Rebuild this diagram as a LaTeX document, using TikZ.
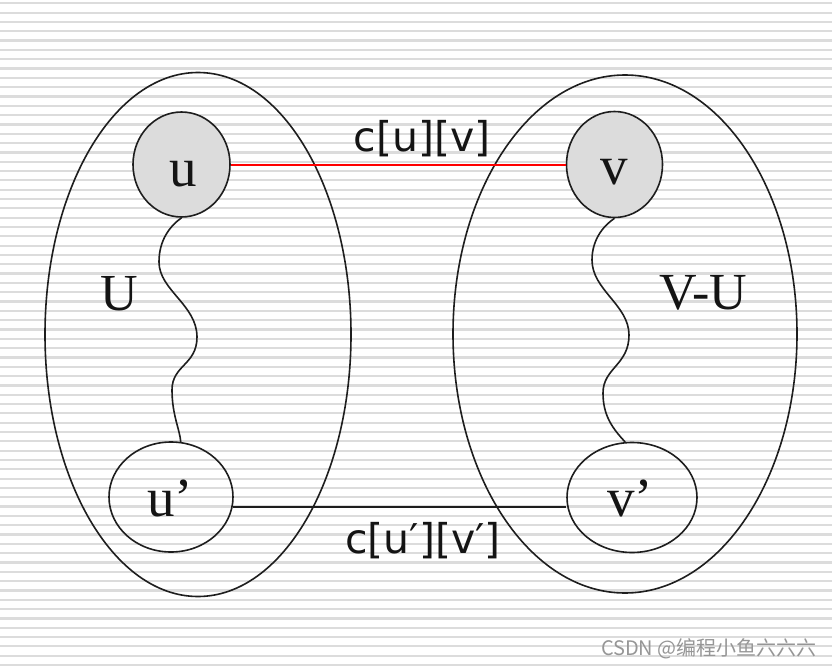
\documentclass[tikz,border=0pt]{standalone}
\usepackage{fontspec}
\setmainfont{Liberation Serif}
\newfontfamily\labelsans{DejaVu Sans}
\newfontfamily\cjkfont{Noto Sans CJK SC}
\usetikzlibrary{shapes.geometric}
\definecolor{stripecol}{RGB}{220,220,220}
\definecolor{fillgray}{RGB}{220,220,220}
\definecolor{strokecol}{RGB}{30,30,30}
\definecolor{textcol}{RGB}{20,20,20}
\definecolor{markcol}{RGB}{150,150,150}
\begin{document}
\begin{tikzpicture}[x=1pt,y=-1pt,
  stripe/.style={draw=stripecol,line width=2.2pt},
  bigset/.style={draw=strokecol,line width=1.6pt},
  vertex/.style={ellipse,draw=strokecol,line width=1.6pt,inner sep=0pt},
  shaded/.style={vertex,fill=fillgray},
  vlabel/.style={anchor=base,inner sep=0pt,text=textcol,font=\fontsize{55}{60}\selectfont},
  setlabel/.style={anchor=base,inner sep=0pt,text=textcol,font=\fontsize{52}{58}\selectfont},
  edgelabel/.style={anchor=base,inner sep=0pt,text=textcol,font=\labelsans\fontsize{41}{46}\selectfont},
  wave/.style={draw=strokecol,line width=1.6pt},
  watermark/.style={anchor=base east,inner sep=0pt,text=markcol,font=\cjkfont\fontsize{20}{24}\selectfont}]
\useasboundingbox (0,0) rectangle (832,666);
\fill[white] (0,0) rectangle (832,666);
\foreach \k in {0,...,71} \draw[stripe] (0,{3.3+9.32*\k}) -- (832,{3.3+9.32*\k});
% big sets
\draw[bigset] (198,334.5) ellipse [x radius=153pt, y radius=262pt];
\draw[bigset] (625,334) ellipse [x radius=172pt, y radius=259pt];
% vertices
\node[shaded,minimum width=97pt,minimum height=105pt] (u) at (181.5,164.5) {};
\node[shaded,minimum width=96pt,minimum height=106pt] (v) at (614.5,164.5) {};
\node[vertex,minimum width=124pt,minimum height=110pt] (up) at (171,497) {};
\node[vertex,minimum width=130pt,minimum height=110pt] (vp) at (632,497.5) {};
% vertex texts
\node[vlabel] (ut) at (183,186) {u};
\node[vlabel] (vt) at (614,184) {v};
\node[vlabel] (upt) at (170,516) {u’};
\node[vlabel] (vpt) at (630,516) {v’};
% set labels
\node[setlabel] (U) at (119,310) {U};
\node[setlabel] (VU) at (703.5,309) {V-U};
% edges
\draw[red,line width=2pt] (u.east) -- (u.east -| v.west);
\coordinate (a) at (up.-9);
\draw[strokecol,line width=2.2pt] (a) -- (a -| vp.west);
\node[edgelabel] (l1) at (422,151) {c[u][v]};
\node[edgelabel] (l2) at (423,553) {c[u′][v′]};
% wavy paths
\draw[wave] (u.south) .. controls (170,226) and (159,240) .. (159,262)
  .. controls (159,290) and (197,305) .. (197,337)
  .. controls (197,365) and (172,365) .. (172,390)
  .. controls (172,415) and (180,430) .. (up.80);
\draw[wave] (v.south) .. controls (603,226) and (592,240) .. (592,260)
  .. controls (592,290) and (629,305) .. (629,335)
  .. controls (629,365) and (603,368) .. (603,393)
  .. controls (603,415) and (612,428) .. (vp.97);
% watermark
\node[watermark] (wm) at (817,655) {CSDN @编程小鱼六六六};
\end{tikzpicture}
\end{document}
